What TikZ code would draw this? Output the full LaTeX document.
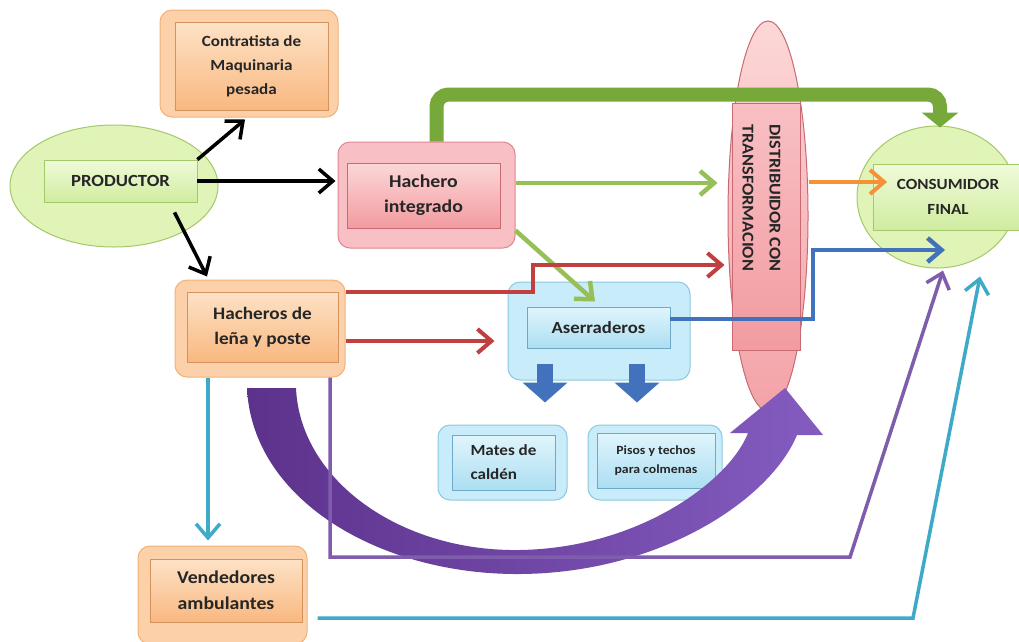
\documentclass[tikz,border=0pt]{standalone}
\usepackage{fontspec}
\setmainfont{Carlito}[FakeStretch=1.1]
\usetikzlibrary{arrows.meta,shapes.geometric,calc}

\definecolor{orLight}{RGB}{252,208,168}
\definecolor{orEdge}{RGB}{242,178,120}
\definecolor{orTop}{RGB}{253,226,198}
\definecolor{orBot}{RGB}{249,184,128}
\definecolor{orLine}{RGB}{214,146,92}
\definecolor{pkLight}{RGB}{248,192,196}
\definecolor{pkEdge}{RGB}{222,135,145}
\definecolor{pkTop}{RGB}{252,215,215}
\definecolor{pkBot}{RGB}{242,155,160}
\definecolor{pkLine}{RGB}{200,105,115}
\definecolor{blLight}{RGB}{200,236,250}
\definecolor{blEdge}{RGB}{140,200,225}
\definecolor{blTop}{RGB}{224,245,252}
\definecolor{blBot}{RGB}{172,222,242}
\definecolor{blLine}{RGB}{110,170,200}
\definecolor{gnLight}{RGB}{224,244,184}
\definecolor{gnEdge}{RGB}{165,200,105}
\definecolor{gnTop}{RGB}{240,250,218}
\definecolor{gnBot}{RGB}{208,236,160}
\definecolor{grBig}{RGB}{118,168,58}
\definecolor{grThin}{RGB}{150,192,85}
\definecolor{redFlow}{RGB}{192,64,64}
\definecolor{blueFlow}{RGB}{66,114,188}
\definecolor{orFlow}{RGB}{245,145,55}
\definecolor{purFlow}{RGB}{128,92,172}
\definecolor{purDark}{RGB}{92,50,140}
\definecolor{purLight}{RGB}{132,92,192}
\definecolor{tealFlow}{RGB}{62,170,200}

\tikzset{
  card/.style={rounded corners=12pt, line width=1pt, inner sep=0pt},
  tag/.style={line width=0.8pt, align=center, inner sep=0pt, text=black!85},
  orcard/.style={card, draw=orEdge, fill=orLight},
  ortag/.style={tag, draw=orLine, top color=orTop, bottom color=orBot},
  pkcard/.style={card, draw=pkEdge, fill=pkLight},
  pktag/.style={tag, draw=pkLine, top color=pkTop, bottom color=pkBot},
  blcard/.style={card, draw=blEdge, fill=blLight},
  bltag/.style={tag, draw=blLine, top color=blTop, bottom color=blBot},
  gncirc/.style={ellipse, inner sep=0pt, line width=1pt, draw=gnEdge, fill=gnLight},
  gntag/.style={tag, draw=gnEdge, top color=gnTop, bottom color=gnBot},
  lbl/.style 2 args={font=\bfseries\fontsize{#1}{#2}\selectfont},
  flow/.style={line width=4pt, -{Straight Barb[length=14pt,width=24pt]}},
  blackflow/.style={flow, line width=3.5pt, black},
  bigflow/.style={line width=14pt, grBig, -{Triangle[length=15pt,width=36pt]}},
  blockflow/.style={line width=16pt, blueFlow, -{Triangle[length=20pt,width=44pt]}},
}

\begin{document}
\begin{tikzpicture}[x=1pt,y=-1pt]
  \fill[white] (0,0) rectangle (1019,641);
  \useasboundingbox (0,0) rectangle (1019,641);

  % boxes
  \node[orcard, minimum width=178pt, minimum height=107pt] (contr) at (249,63.5) {};
  \node[ortag, minimum width=153pt, minimum height=88pt, lbl={15.5}{24}] (contr-t) at (251.5,66) {Contratista de\\Maquinaria\\pesada};

  \node[gncirc, minimum width=208pt, minimum height=122pt] (prod) at (114,186) {};
  \node[gntag, minimum width=153pt, minimum height=42pt, lbl={17}{24}] (prod-t) at (120.5,181) {PRODUCTOR};

  \node[pkcard, minimum width=177pt, minimum height=106pt] (hach) at (426.5,195) {};
  \node[pktag, minimum width=153pt, minimum height=65pt, lbl={18}{25}] (hach-t) at (423.5,195.5) {Hachero\\integrado};

  \node[orcard, minimum width=170pt, minimum height=97pt] (lena) at (260,328.5) {};
  \node[ortag, minimum width=151pt, minimum height=70pt, lbl={17.5}{25}] (lena-t) at (262.5,327) {Hacheros de\\leña y poste};

  \node[blcard, minimum width=182pt, minimum height=98pt] (aser) at (599,331) {};
  \node[bltag, minimum width=143pt, minimum height=41pt, lbl={17}{24}] (aser-t) at (598.5,327.5) {Aserraderos};

  \node[blcard, minimum width=129pt, minimum height=75pt] (mates) at (502.5,462.5) {};
  \node[bltag, minimum width=103pt, minimum height=55pt, align=left, lbl={15.5}{24}] (mates-t) at (503.5,462.5) {Mates de\\caldén};

  \node[blcard, minimum width=134pt, minimum height=75pt] (pisos) at (655,462.5) {};
  \node[bltag, minimum width=118pt, minimum height=55pt, lbl={12.5}{19}] (pisos-t) at (656,460.5) {Pisos y techos\\para colmenas};

  \node[orcard, minimum width=169pt, minimum height=98pt] (vend) at (222.5,595) {};
  \node[ortag, minimum width=152pt, minimum height=63pt, lbl={18}{26}] (vend-t) at (226,590.5) {Vendedores\\ambulantes};

  \node[ellipse, inner sep=0pt, line width=1pt, draw=pkLine, top color=pkTop, bottom color=pkBot!80!pkLight,
        minimum width=80pt, minimum height=390pt] (dist) at (768,216) {};
  \node[tag, draw=pkLine, top color=pkLight, bottom color=pkBot, minimum width=68pt, minimum height=247pt] (dist-t) at (766,226.5) {};
  \node[lbl={16.5}{27}, rotate=-90, align=left, text=black!85] (dist-l) at (761.5,198) {DISTRIBUIDOR CON\\TRANSFORMACION};

  \node[gncirc, minimum width=160pt, minimum height=142pt] (cons) at (937,197) {};
  \node[gntag, minimum width=149pt, minimum height=66pt, lbl={15.5}{25}] (cons-t) at (948,197) {CONSUMIDOR\\FINAL};

  % big purple arrow
  \shade[left color=purDark, right color=purLight]
    (247,388) .. controls (252,500) and (380,575) .. (520,574)
    .. controls (660,573) and (770,500) .. (797,435)
    -- (823,435) -- (785,388) -- (730,433) -- (748,433)
    .. controls (730,480) and (640,548) .. (520,550)
    .. controls (400,552) and (300,480) .. (296,388) -- cycle;

  % from productor
  \draw[blackflow] (prod-t.north east) -- ([xshift=-4pt,yshift=-2pt]contr.south);
  \draw[blackflow, shorten >=2pt] (prod-t.east) -- (prod-t.east -| hach.west);
  \draw[blackflow] ([xshift=54pt,yshift=-10pt]prod-t.south) -- ([xshift=-53pt,yshift=3pt]lena.north);

  % from hachero integrado
  \draw[bigflow, rounded corners=12pt] ([xshift=10pt]hach.north) |- ($(cons.north)+(3,-31)$) -- ([xshift=3pt,yshift=-2pt]cons.north);
  \coordinate (g1) at ([yshift=12pt]hach.east);
  \draw[flow, grThin, line width=4.5pt, shorten >=10pt] (g1) -- (g1 -| dist.west);
  \draw[flow, grThin, line width=4.5pt] ([yshift=18pt]hach.south east) -- ([xshift=-4pt,yshift=-20pt]aser.north);

  % from hacheros de lena
  \coordinate (rstep) at (533,265);
  \draw[flow, redFlow, shorten >=3pt] ([yshift=-12pt]lena.north east) -| (rstep) -- (rstep -| dist.west);
  \coordinate (r2) at ([yshift=-12.5pt]lena.east);
  \draw[flow, redFlow, shorten >=13pt] (r2) -- (r2 -| aser.west);

  \coordinate (pkink) at (850,557);
  \draw[flow, purFlow, line width=3.5pt] ([xshift=70pt]lena.south) |- (pkink) -- ([xshift=6pt,yshift=-2pt]cons.south);

  \coordinate (t0) at ([xshift=-52pt]lena.south);
  \draw[flow, tealFlow, line width=3.5pt, shorten >=5pt] (t0) -- (t0 |- vend.north);
  \coordinate (tkink) at (913,618);
  \draw[flow, tealFlow, line width=3.5pt] ([xshift=10pt,yshift=-23pt]vend.east) -- (tkink) -- ([xshift=43pt,yshift=-8pt]cons.south);

  % from aserraderos
  \draw[blockflow] ([xshift=-54pt,yshift=17pt]aser.south) -- ++(0,39);
  \draw[blockflow] ([xshift=38pt,yshift=17pt]aser.south) -- ++(0,39);
  \coordinate (bstep) at (813,250);
  \draw[flow, blueFlow, line width=4.5pt] ([yshift=8.5pt]aser-t.east) -| (bstep) -- ($(bstep -| cons.center)+(8,0)$);

  % from distribuidor
  \coordinate (o1) at ([yshift=34pt]dist.east);
  \draw[flow, orFlow] (o1) -- ([xshift=14pt,yshift=15pt]cons-t.west);
\end{tikzpicture}
\end{document}
